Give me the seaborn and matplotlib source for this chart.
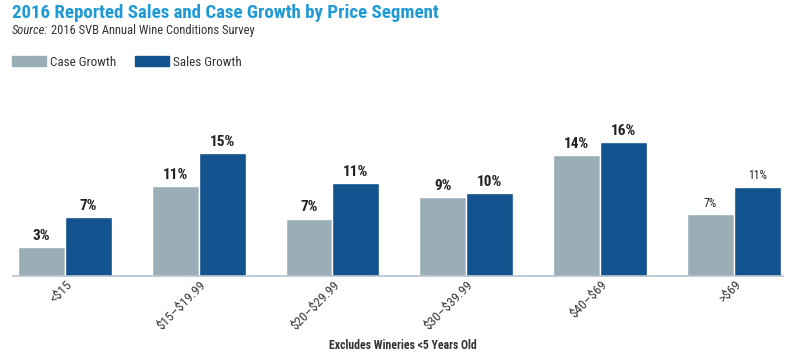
import pandas as pd
import matplotlib.pyplot as plt
import matplotlib.transforms as mtransforms
import seaborn as sns

# Chart values
segments = ["<$15", "$15–$19.99", "$20–$29.99", "$30–$39.99", "$40–$69", ">$69"]
case_growth = [3.5, 11.0, 7.0, 9.6, 14.8, 7.6]
sales_growth = [7.2, 15.0, 11.3, 10.1, 16.3, 10.9]
case_labels = ["3%", "11%", "7%", "9%", "14%", "7%"]
sales_labels = ["7%", "15%", "11%", "10%", "16%", "11%"]
series_names = ["Case Growth", "Sales Growth"]

df = pd.DataFrame({
    "segment": segments * 2,
    "growth": case_growth + sales_growth,
    "series": [series_names[0]] * len(segments) + [series_names[1]] * len(segments),
})

sns.set_style("white")
plt.rcParams["font.family"] = ["Roboto Condensed", "Liberation Sans Narrow", "Roboto", "DejaVu Sans"]
plt.rcParams["text.parse_math"] = False  # dollar signs in the labels

fig = plt.figure(figsize=(8, 3.63), dpi=100)
ax = fig.add_axes([0.016, 0.240, 0.963, 0.451])

palette = {"Case Growth": "#9aaeb8", "Sales Growth": "#12528f"}
sns.barplot(data=df, x="segment", y="growth", hue="series", palette=palette,
            width=0.7, saturation=1, ax=ax, legend=False)

ax.set_xlim(-0.39, 5.37)
ax.set_ylim(0, 20)
ax.set_xlabel("")
ax.set_ylabel("")
ax.set_yticks([])
for side in ["left", "right", "top"]:
    ax.spines[side].set_visible(False)
ax.spines["bottom"].set_color("#b4c2ce")
ax.spines["bottom"].set_linewidth(1.2)
ax.tick_params(axis="x", length=0, pad=5)
shift = mtransforms.ScaledTranslation(5 / 100, 0, fig.dpi_scale_trans)
for lbl in ax.get_xticklabels():
    lbl.set(rotation=45, ha="right", va="center", rotation_mode="anchor",
            fontsize=9.5, color="#3a3a3a")
    lbl.set_transform(lbl.get_transform() + shift)

# value labels over the bars
for cont, labs in zip(ax.containers, [case_labels, sales_labels]):
    texts = ax.bar_label(cont, labels=labs, padding=3, fontsize=11,
                         fontweight="bold", color="#222222")
    texts[-1].set_fontsize(8.5)
    texts[-1].set_fontweight("normal")

# legend
handles = [plt.Rectangle((0, 0), 1, 1, color=palette[s]) for s in series_names]
fig.legend(handles, series_names, loc="center left", bbox_to_anchor=(0.0, 0.829),
           ncol=2, frameon=False, fontsize=9.5, handlelength=2.6, handleheight=0.75,
           handletextpad=0.3, columnspacing=1.4, labelcolor="#333333")

fig.text(0.015, 0.965, "2016 Reported Sales and Case Growth by Price Segment",
         fontsize=13.6, fontweight="bold", color="#1e9bd7", va="center")
src = fig.text(0.015, 0.915, "Source:", fontsize=9, style="italic", color="#333333", va="center")
fig.canvas.draw()
bb = src.get_window_extent()
fig.text((bb.x1 + 3) / fig.bbox.width, 0.915, "2016 SVB Annual Wine Conditions Survey",
         fontsize=9, color="#333333", va="center")
fig.text(0.504, 0.047, "Excludes Wineries <5 Years Old", fontsize=8.5,
         fontweight="bold", color="#333333", ha="center", va="center")

fig.savefig("out.png", dpi=100)
